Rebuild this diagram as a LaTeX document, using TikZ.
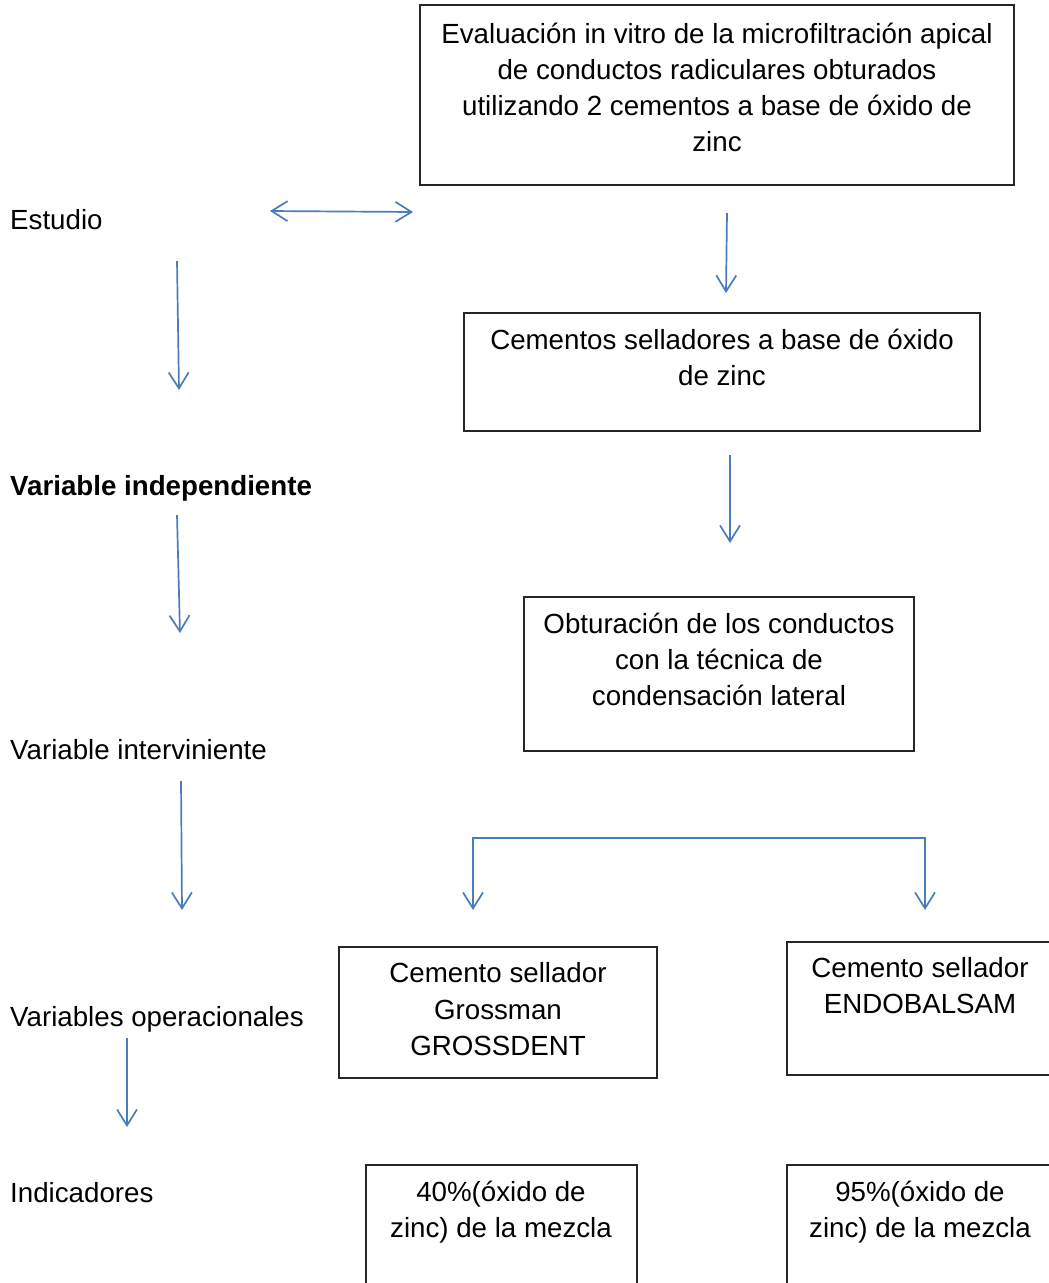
\documentclass[tikz,border=0pt]{standalone}
\usepackage{fontspec}
\setmainfont{Liberation Sans}
\usetikzlibrary{arrows.meta}
\definecolor{arrowblue}{HTML}{4A7EBB}
\begin{document}
\begin{tikzpicture}[x=1pt,y=-1pt,
  box/.style={draw=black!85,line width=1.3pt},
  txt/.style={anchor=base,inner sep=0pt,font=\fontsize{27.7}{36}\selectfont},
  lbl/.style={anchor=base west,inner sep=0pt,font=\fontsize{27.7}{36}\selectfont},
  conn/.style={draw=arrowblue,line width=1.7pt,-{Straight Barb[length=16pt,width=20pt]}},
  dconn/.style={draw=arrowblue,line width=1.7pt,{Straight Barb[length=16pt,width=20pt]}-{Straight Barb[length=16pt,width=20pt]}}]
\useasboundingbox (0,0) rectangle (1049,1283);
\clip (0,0) rectangle (1049,1283);
\fill[white] (0,0) rectangle (1049,1283);

% boxes
\draw[box] (420,5) rectangle (1014,185);
\draw[box] (464,313) rectangle (980,431);
\draw[box] (524,597) rectangle (914,751);
\draw[box] (339,947) rectangle (657,1078);
\draw[box] (787,942) rectangle (1060,1075);
\draw[box] (366,1165) rectangle (637,1300);
\draw[box] (787,1165) rectangle (1060,1300);

% box texts
\node[txt] (t1a) at (717,43) {Evaluación in vitro de la microfiltración apical};
\node[txt] (t1b) at (717,79) {de conductos radiculares obturados};
\node[txt] (t1c) at (717,115) {utilizando 2 cementos a base de óxido de};
\node[txt] (t1d) at (717,151) {zinc};
\node[txt] (t2a) at (722,349) {Cementos selladores a base de óxido};
\node[txt] (t2b) at (722,385) {de zinc};
\node[txt] (t3a) at (719,633) {Obturación de los conductos};
\node[txt] (t3b) at (719,669) {con la técnica de};
\node[txt] (t3c) at (719,705) {condensación lateral};
\node[txt] (t4a) at (498,982) {Cemento sellador};
\node[txt] (t4b) at (498,1019) {Grossman};
\node[txt] (t4c) at (498,1055) {GROSSDENT};
\node[txt] (t5a) at (920,977) {Cemento sellador};
\node[txt] (t5b) at (920,1013) {ENDOBALSAM};
\node[txt] (t6a) at (501,1201) {40\%(óxido de};
\node[txt] (t6b) at (501,1237) {zinc) de la mezcla};
\node[txt] (t7a) at (920,1201) {95\%(óxido de};
\node[txt] (t7b) at (920,1237) {zinc) de la mezcla};

% left labels
\node[lbl] (l1) at (10,229) {Estudio};
\node[lbl] (l2) at (10,495) {\bfseries Variable independiente};
\node[lbl] (l3) at (10,759) {Variable interviniente};
\node[lbl] (l4) at (10,1026) {Variables operacionales};
\node[lbl] (l5) at (10,1202) {Indicadores};

% connector end points
\coordinate (d1) at (270,211); \coordinate (d2) at (413,212);
\coordinate (a1) at (727,213); \coordinate (a2) at (726,293);
\coordinate (b1) at (177,261); \coordinate (b2) at (179,390);
\coordinate (c1) at (730,455); \coordinate (c2) at (730,543);
\coordinate (e1) at (177,515); \coordinate (e2) at (180,633);
\coordinate (f1) at (181,781); \coordinate (f2) at (182,910);
\coordinate (g0) at (699,838);
\coordinate (gl) at (473,910); \coordinate (gr) at (925,910);
\coordinate (h1) at (127,1038); \coordinate (h2) at (127,1127);

\draw[dconn] (d1) -- (d2);
\draw[conn] (a1) -- (a2);
\draw[conn] (b1) -- (b2);
\draw[conn] (c1) -- (c2);
\draw[conn] (e1) -- (e2);
\draw[conn] (f1) -- (f2);
\draw[conn] (g0) -- (g0 -| gl) -- (gl);
\draw[conn] (g0) -- (g0 -| gr) -- (gr);
\draw[conn] (h1) -- (h2);
\end{tikzpicture}
\end{document}
